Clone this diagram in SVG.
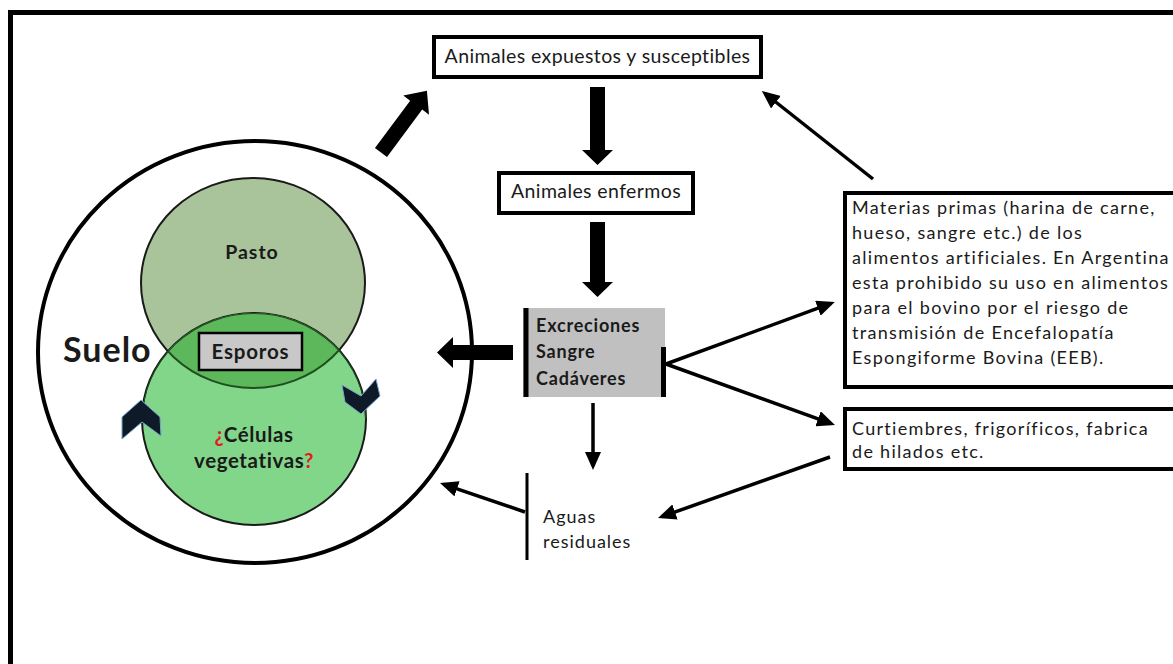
<svg xmlns="http://www.w3.org/2000/svg" width="1173" height="664" viewBox="0 0 1173 664">
<style>
.t{font-family:Lato,"Liberation Sans",sans-serif;fill:#1a1a1a}
.b{font-weight:bold}
.box{fill:#fff;stroke:#000;stroke-width:4}
.ln{stroke:#000;stroke-width:3.5;fill:none;marker-end:url(#ah)}
.thick{fill:#000}
.chev{fill:#0e1a28;stroke:#7aa6cc;stroke-width:1}
.q{fill:#e02020}
.side{font-size:18px;letter-spacing:1.3px}
</style>
<defs>
<marker id="ah" markerUnits="userSpaceOnUse" markerWidth="18" markerHeight="16" refX="14" refY="8" orient="auto">
<path d="M0,0 L18,8 L0,16 z" fill="#000"/>
</marker>
<clipPath id="lowerClip"><ellipse cx="254" cy="419" rx="112" ry="106"/></clipPath>
</defs>
<rect x="0" y="0" width="1173" height="664" fill="#fff"/>
<rect x="10.5" y="12.5" width="1200" height="700" fill="none" stroke="#000" stroke-width="5"/>

<g id="suelo">
<ellipse cx="255" cy="352" rx="217" ry="211" fill="#fff" stroke="#000" stroke-width="4"/>
<text class="t b" x="63" y="362" font-size="34" letter-spacing="1">Suelo</text>
</g>
<g id="pasto">
<ellipse cx="253" cy="283" rx="112" ry="105" fill="#a9c49a" stroke="#1a1a1a" stroke-width="2"/>
<text class="t b" x="252" y="259" font-size="19.5" letter-spacing="1" text-anchor="middle">Pasto</text>
</g>
<g id="celulas">
<ellipse cx="254" cy="419" rx="112" ry="106" fill="#82d68a" stroke="#1a1a1a" stroke-width="2"/>
<ellipse cx="253" cy="283" rx="112" ry="105" fill="#5cb85a" stroke="#1f4f1f" stroke-width="2" clip-path="url(#lowerClip)"/>
<path d="M142,419 A112,106 0 0 1 366,419" fill="none" stroke="#1f4f1f" stroke-width="2" clip-path="url(#lowerClip)"/>
<text class="t b" x="254" y="442" font-size="20.5" letter-spacing="0.6" text-anchor="middle"><tspan class="q">¿</tspan>Células</text>
<text class="t b" x="254" y="468" font-size="20.5" letter-spacing="0.6" text-anchor="middle">vegetativas<tspan class="q">?</tspan></text>
</g>
<g id="esporos">
<rect x="199" y="333" width="103" height="37" fill="#c8c8c8" stroke="#000" stroke-width="2.5"/>
<text class="t b" x="250.5" y="358.5" font-size="20.5" letter-spacing="0.8" text-anchor="middle">Esporos</text>
</g>
<g id="chevrons">
<polygon class="chev" points="122,417 141,400 160,417 161,436 142,422 122,439"/>
<polygon class="chev" points="342,385 361,396 376,379 380,396 361,414 345,402"/>
</g>

<g id="animales-expuestos">
<rect class="box" x="434" y="37" width="327" height="40"/>
<text class="t" x="597.5" y="63" font-size="19.5" letter-spacing="0.4" text-anchor="middle">Animales expuestos y susceptibles</text>
</g>
<g id="animales-enfermos">
<rect class="box" x="499" y="173" width="194" height="40"/>
<text class="t" x="596" y="198" font-size="19.5" letter-spacing="0.4" text-anchor="middle">Animales enfermos</text>
</g>
<g id="excreciones">
<rect x="523" y="308" width="142" height="89" fill="#c0c0c0"/>
<rect x="523.5" y="308" width="5" height="89" fill="#000"/>
<rect x="661" y="347" width="5" height="50" fill="#000"/>
<text class="t b" font-size="18" letter-spacing="0.8"><tspan x="536" y="332">Excreciones</tspan><tspan x="536" y="358">Sangre</tspan><tspan x="536" y="385">Cadáveres</tspan></text>
</g>
<g id="aguas">
<rect x="525.5" y="473" width="3" height="87" fill="#000"/>
<text class="t" font-size="18" letter-spacing="1"><tspan x="543" y="523">Aguas</tspan><tspan x="543" y="548">residuales</tspan></text>
</g>
<g id="materias">
<rect class="box" x="845" y="193" width="360" height="194"/>
<text class="t side">
<tspan x="852" y="214">Materias primas (harina de carne,</tspan>
<tspan x="852" y="239">hueso, sangre etc.) de los</tspan>
<tspan x="852" y="264">alimentos artificiales. En Argentina</tspan>
<tspan x="852" y="289">esta prohibido su uso en alimentos</tspan>
<tspan x="852" y="314">para el bovino por el riesgo de</tspan>
<tspan x="852" y="339">transmisión de Encefalopatía</tspan>
<tspan x="852" y="364">Espongiforme Bovina (EEB).</tspan>
</text>
</g>
<g id="curtiembres">
<rect class="box" x="845" y="409" width="360" height="60"/>
<text class="t side"><tspan x="852" y="435">Curtiembres, frigoríficos, fabrica</tspan><tspan x="852" y="458">de hilados etc.</tspan></text>
</g>

<g id="connectors">
<path class="thick" d="M0,-7.5 H59 V-16 L77,0 L59,16 V7.5 H0 Z" transform="translate(381,152.5) rotate(-53.4)"/>
<path class="thick" d="M590,87 H605 V150 H613 L597.5,165 L582,150 H590 Z"/>
<path class="thick" d="M590,222 H605 V282 H613 L597.5,297 L582,282 H590 Z"/>
<path class="thick" d="M513,345 V360 H453 V368 L437,352.5 L453,337 V345 Z"/>
<line class="ln" x1="873" y1="179" x2="765" y2="93.5"/>
<line class="ln" x1="666" y1="364" x2="831" y2="303.4"/>
<line class="ln" x1="666" y1="364" x2="831.2" y2="423.6"/>
<line class="ln" x1="830" y1="457" x2="661.8" y2="516.7"/>
<line class="ln" x1="593" y1="403" x2="593" y2="466"/>
<line class="ln" x1="525" y1="512" x2="443.8" y2="484.3"/>
</g>
</svg>
